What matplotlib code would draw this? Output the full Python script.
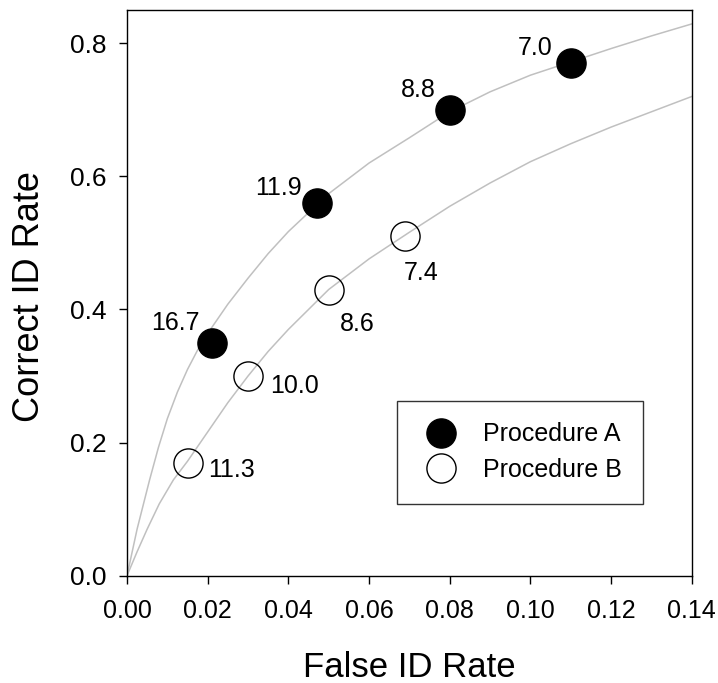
import matplotlib
matplotlib.use("Agg")
import matplotlib.pyplot as plt

plt.rcParams['font.family'] = ['Liberation Sans', 'DejaVu Sans']

# Procedure A (filled) and Procedure B (open) points
a_false = [0.021, 0.047, 0.080, 0.110]
a_correct = [0.35, 0.56, 0.70, 0.77]
a_labels = ['16.7', '11.9', '8.8', '7.0']

b_false = [0.015, 0.030, 0.050, 0.069]
b_correct = [0.17, 0.30, 0.43, 0.51]
b_labels = ['11.3', '10.0', '8.6', '7.4']

# fitted curves
curve_a_x = [0.0, 0.0025, 0.0056, 0.0078, 0.010, 0.0125, 0.015, 0.0175, 0.020,
             0.025, 0.030, 0.035, 0.040, 0.050, 0.060, 0.070, 0.080, 0.090,
             0.100, 0.110, 0.120, 0.130, 0.140]
curve_a_y = [0.0, 0.070, 0.144, 0.193, 0.236, 0.276, 0.310, 0.339, 0.364,
             0.408, 0.447, 0.484, 0.517, 0.574, 0.620, 0.658, 0.697, 0.727,
             0.752, 0.772, 0.792, 0.811, 0.829]

curve_b_x = [0.0, 0.0025, 0.005, 0.008, 0.0115, 0.015, 0.020, 0.025, 0.030,
             0.035, 0.040, 0.050, 0.060, 0.070, 0.080, 0.090, 0.100, 0.110,
             0.120, 0.130, 0.140]
curve_b_y = [0.0, 0.036, 0.070, 0.108, 0.144, 0.172, 0.216, 0.260, 0.300,
             0.337, 0.370, 0.430, 0.476, 0.516, 0.555, 0.590, 0.622, 0.649,
             0.674, 0.697, 0.720]

# label offsets in pixels (dx, dy, ha)
a_offsets = [(-12, 13, 'right'), (-15, 8, 'right'), (-14, 13, 'right'), (-18, 8, 'right')]
b_offsets = [(21, -14, 'left'), (22, -17, 'left'), (11, -41, 'left'), (-2, -44, 'left')]

fig = plt.figure(figsize=(7.18, 6.83), dpi=100)
ax = fig.add_axes([0.1769, 0.1571, 0.7865, 0.8283])

ax.plot(curve_a_x, curve_a_y, color='#c0c0c0', lw=1.1, zorder=1)
ax.plot(curve_b_x, curve_b_y, color='#c0c0c0', lw=1.1, zorder=1)

ax.plot(a_false, a_correct, 'o', ms=21, mfc='black', mec='black', mew=1,
        ls='none', label='Procedure A', zorder=3)
ax.plot(b_false, b_correct, 'o', ms=21, mfc='none', mec='black', mew=1,
        ls='none', label='Procedure B', zorder=3)

for x, y, t, (dx, dy, ha) in zip(a_false, a_correct, a_labels, a_offsets):
    ax.annotate(t, (x, y), xytext=(dx, dy), textcoords='offset pixels',
                ha=ha, va='baseline', fontsize=18)
for x, y, t, (dx, dy, ha) in zip(b_false, b_correct, b_labels, b_offsets):
    ax.annotate(t, (x, y), xytext=(dx, dy), textcoords='offset pixels',
                ha=ha, va='baseline', fontsize=18)

ax.set_xlim(0, 0.14)
ax.set_ylim(0, 0.85)
ax.set_xticks([0.0, 0.02, 0.04, 0.06, 0.08, 0.10, 0.12, 0.14])
ax.set_yticks([0.0, 0.2, 0.4, 0.6, 0.8])
ax.xaxis.set_major_formatter(matplotlib.ticker.FormatStrFormatter('%.2f'))
ax.yaxis.set_major_formatter(matplotlib.ticker.FormatStrFormatter('%.1f'))
ax.tick_params(direction='out', length=5.5, width=1, labelsize=18, pad=11,
               top=False, right=False)
ax.tick_params(axis='y', pad=9, labelsize=19)
for s in ax.spines.values():
    s.set_linewidth(1)

ax.set_xlabel('False ID Rate', fontsize=25)
ax.set_ylabel('Correct ID Rate', fontsize=26)
ax.xaxis.set_label_coords(0.5, -0.133)
ax.yaxis.set_label_coords(-0.141, 0.494)

leg = ax.legend(loc='upper left', bbox_to_anchor=(0.478, 0.309), borderaxespad=0,
                fontsize=18, frameon=True, fancybox=False, edgecolor='black',
                borderpad=0.86, handlelength=1.8, handletextpad=0.78,
                labelspacing=0.47, numpoints=1)
leg.get_frame().set_linewidth(1)

fig.savefig('out.png', dpi=100)
